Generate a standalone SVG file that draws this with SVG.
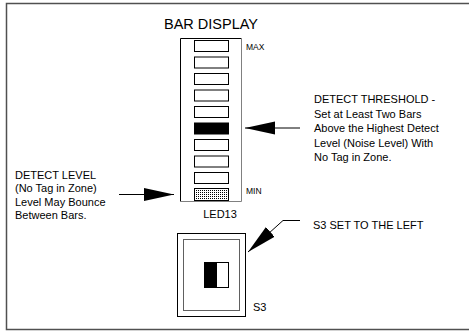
<svg xmlns="http://www.w3.org/2000/svg" width="469" height="331" viewBox="0 0 469 331">
<style>
text{font-family:"Liberation Sans",Arial,sans-serif;fill:#000}
.t{font-size:11px}
.s{font-size:8.5px}
.bar{fill:#fff;stroke:#000;stroke-width:1}
.ln{fill:none;stroke:#000;stroke-width:1}
</style>
<defs>
<pattern id="dots" width="2" height="2" patternUnits="userSpaceOnUse">
<rect width="2" height="2" fill="#fff"/>
<rect width="1" height="1" fill="#000"/>
</pattern>
<marker id="ah" markerUnits="userSpaceOnUse" markerWidth="32" markerHeight="16" viewBox="0 -8 32 16" refX="30" refY="0" orient="auto">
<path d="M0,-6.5 L30,0 L0,6.5 Z" fill="#000"/>
</marker>
</defs>
<rect x="6.5" y="3.5" width="470" height="326" fill="#fff" stroke="#505050" stroke-width="1.5"/>
<g id="bar-display">
<text x="211" y="29" text-anchor="middle" font-size="14.5">BAR DISPLAY</text>
<path d="M180.5,201.5 V38.5 H241.5" fill="none" stroke="#000"/>
<path d="M241.5,38.5 V201.5 H180.5" fill="none" stroke="#808080"/>
<rect class="bar" x="194.5" y="40.5" width="34" height="11"/>
<rect class="bar" x="194.5" y="57" width="34" height="11"/>
<rect class="bar" x="194.5" y="73.5" width="34" height="11"/>
<rect class="bar" x="194.5" y="90" width="34" height="11"/>
<rect class="bar" x="194.5" y="106.5" width="34" height="11"/>
<rect class="bar" x="194.5" y="123" width="34" height="11" style="fill:#000"/>
<rect class="bar" x="194.5" y="139.5" width="34" height="11"/>
<rect class="bar" x="194.5" y="156" width="34" height="11"/>
<rect class="bar" x="194.5" y="172.5" width="34" height="11"/>
<rect class="bar" x="194.5" y="188.5" width="34" height="12" style="fill:url(#dots)"/>
<text class="s" x="246" y="50">MAX</text>
<text class="s" x="246" y="193.5">MIN</text>
<text class="t" x="220" y="218" text-anchor="middle">LED13</text>
</g>
<g id="detect-level">
<text class="t" x="15" y="178.5">DETECT LEVEL</text>
<text class="t" x="15" y="192">(No Tag in Zone)</text>
<text class="t" x="15" y="205.5">Level May Bounce</text>
<text class="t" x="15" y="219">Between Bars.</text>
</g>
<g id="detect-threshold">
<text class="t" x="314" y="103">DETECT THRESHOLD -</text>
<text class="t" x="314" y="117.5">Set at Least Two Bars</text>
<text class="t" x="314" y="132">Above the Highest Detect</text>
<text class="t" x="314" y="146.5">Level (Noise Level) With</text>
<text class="t" x="314" y="161">No Tag in Zone.</text>
</g>
<g id="s3-switch">
<rect x="177.5" y="233.5" width="68" height="83" fill="#fff" stroke="#000"/>
<rect x="183.5" y="239.5" width="56" height="71" fill="#fff" stroke="#606060"/>
<rect x="204.5" y="262.5" width="12" height="25" fill="#000" stroke="#000"/>
<rect x="216.5" y="262.5" width="12" height="25" fill="#fff" stroke="#000"/>
<text class="t" x="253" y="311">S3</text>
</g>
<g id="s3-note">
<text class="t" x="313" y="229">S3 SET TO THE LEFT</text>
</g>
<g id="connectors">
<path class="ln" d="M300,128 H245" marker-end="url(#ah)"/>
<path class="ln" d="M119,194.5 H174" marker-end="url(#ah)"/>
<path class="ln" d="M300,220.5 H283 L248,252" marker-end="url(#ah)"/>
</g>
</svg>
